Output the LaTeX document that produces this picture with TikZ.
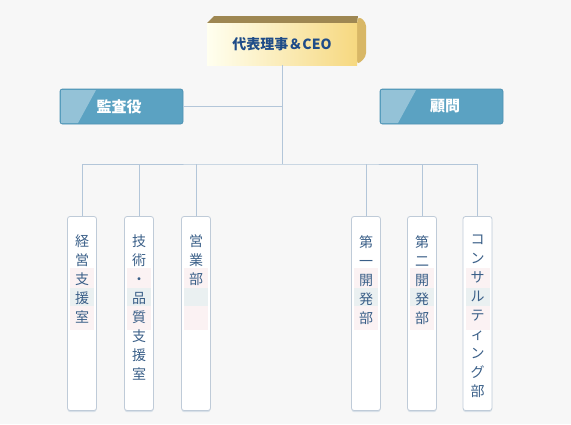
\documentclass[tikz,border=0pt]{standalone}
\usepackage{fontspec}
\newfontfamily\jpfont{Noto Sans CJK JP}
\usetikzlibrary{calc}
\definecolor{bgc}{HTML}{F7F7F7}
\definecolor{linec}{HTML}{B3C6D9}
\definecolor{boxline}{HTML}{BFCBD8}
\definecolor{vtextc}{HTML}{3A5F88}
\definecolor{bluebox}{HTML}{5BA2C2}
\definecolor{blueedge}{HTML}{4D91B2}
\definecolor{ceotext}{HTML}{1F4C88}
\definecolor{ceotop}{HTML}{9E8752}
\definecolor{ceoside}{HTML}{D8B766}
\definecolor{bandpink}{HTML}{FBF2F3}
\definecolor{bandteal}{HTML}{EAF0F1}
\begin{document}
\begin{tikzpicture}[x=1pt,y=-1pt,
  conn/.style={draw=linec,line width=0.9pt},
  deptbox/.style={draw=boxline,fill=white,rounded corners=2.5pt,line width=0.8pt,minimum width=29pt,minimum height=194pt,inner sep=0pt},
  vtext/.style={text=vtextc,font=\jpfont\fontsize{14}{19}\selectfont,align=center,inner sep=0pt,anchor=north},
  bluestyle/.style={draw=blueedge,fill=bluebox,rounded corners=2.5pt,line width=0.8pt,minimum width=123pt,minimum height=35pt,inner sep=0pt},
  bluetext/.style={text=white,font=\jpfont\fontsize{15}{17}\selectfont\bfseries,inner sep=0pt}
]
\fill[bgc] (0,0) rectangle (571,424);
\useasboundingbox (0,0) rectangle (571,424);

% CEO box (3D)
\fill[ceotop] (207,23) -- (214,16) -- (358,16) -- (357,23) -- cycle;
\fill[ceoside,rounded corners=4pt] (357,23) -- (358,16) -- (366,22) -- (366,57) -- (357,65) -- cycle;
\node[minimum width=150pt,minimum height=42pt,inner sep=0pt,left color=white!85!yellow!40,right color={rgb,255:red,246;green,216;blue,128}] (ceo) at (282,44) {};
\node[text=ceotext,font=\jpfont\fontsize{14}{16}\selectfont\bfseries,inner sep=0pt] (ceot) at (282,44) {代表理事＆CEO};

% side boxes
\node[bluestyle] (kansa) at (121.5,106.5) {};
\fill[white,opacity=0.35] (61,90) -- (96,90) -- (78,123) -- (61,123) -- cycle;
\node[bluetext] (kansat) at (119,106.5) {監査役};
\node[bluestyle] (komon) at (441.5,106.5) {};
\fill[white,opacity=0.35] (381,90) -- (416,90) -- (398,123) -- (381,123) -- cycle;
\node[bluetext] (komont) at (445,106.5) {顧問};

% bus
\coordinate (bus) at (282,164);
\draw[conn] (ceo.south) -- (bus);
\draw[conn] (kansa.east) -- (kansa.east -| ceo.south);

% department boxes with shadow
\foreach \n/\x in {b1/82,b2/139,b3/196,b4/366,b5/422,b6/477.5}{
  \fill[boxline!60,rounded corners=2.5pt] (\x-14.5,220) rectangle (\x+14.5,412);
  \node[deptbox] (\n) at (\x,313.5) {};
  \fill[bandpink] (\x-12,268) rectangle (\x+12,288);
  \fill[bandteal] (\x-12,288) rectangle (\x+12,306);
  \fill[bandpink] (\x-12,306) rectangle (\x+12,330);
}

\draw[conn] (b1.north) |- (bus) -| (b6.north);
\foreach \n in {b2,b3,b4,b5}{ \draw[conn] (\n.north) -- (\n.north |- bus); }

\node[vtext] (t1) at (82,235) {経\\営\\支\\援\\室};
\node[vtext] (t2) at (139,235) {技\\術\\・\\品\\質\\支\\援\\室};
\node[vtext] (t3) at (196,235) {営\\業\\部};
\node[vtext] (t4) at (366,235) {第\\一\\開\\発\\部};
\node[vtext] (t5) at (422,235) {第\\二\\開\\発\\部};
\node[vtext] (t6) at (477.5,235) {コ\\ン\\サ\\ル\\テ\\ィ\\ン\\グ\\部};
\end{tikzpicture}
\end{document}
